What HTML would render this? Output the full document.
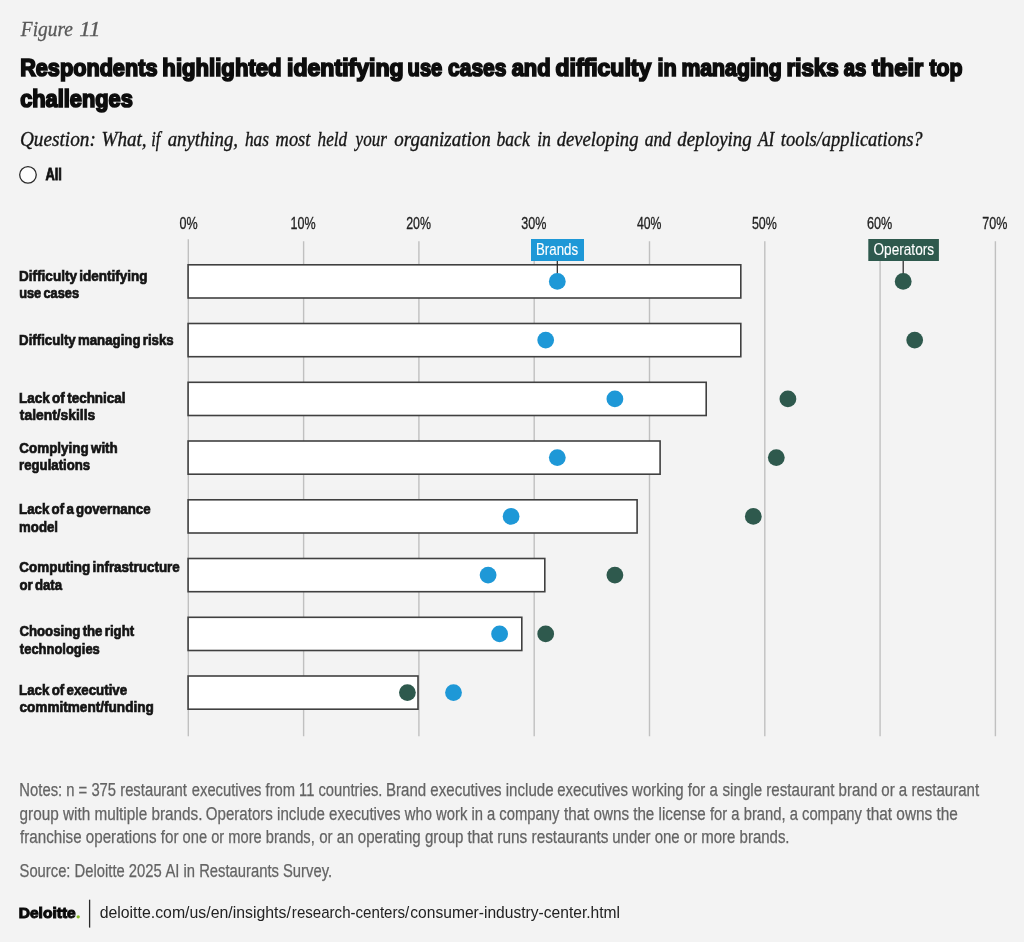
<!DOCTYPE html>
<html lang="en">
<head>
<meta charset="utf-8">
<title>Figure 11</title>
<style>
html,body{margin:0;padding:0;background:#f3f3f3;}
body{width:1024px;height:942px;overflow:hidden;font-family:"Liberation Sans",sans-serif;}
svg{display:block;}
text{font-family:"Liberation Sans",sans-serif;white-space:pre;}
.fig{font-family:"Liberation Serif",serif;font-style:italic;font-size:20.5px;fill:#595959;stroke:#595959;stroke-width:0.3px;}
.ttl{font-weight:bold;font-size:23.2px;fill:#0d0d0d;stroke:#0d0d0d;stroke-width:1.7px;stroke-linejoin:miter;}
.q{font-family:"Liberation Serif",serif;font-style:italic;font-size:20.5px;fill:#161616;stroke:#161616;stroke-width:0.35px;}
.all{font-weight:bold;font-size:15.6px;fill:#111;stroke:#111;stroke-width:0.8px;}
.ax{font-size:16px;fill:#222;stroke:#222;stroke-width:0.3px;}
.lab{font-weight:bold;font-size:14.9px;fill:#141414;stroke:#141414;stroke-width:0.7px;stroke-linejoin:miter;word-spacing:-1.6px;}
.tag{font-size:15.7px;fill:#fff;stroke:#fff;stroke-width:0.12px;}
.note{font-size:17.6px;fill:#646464;stroke:#646464;stroke-width:0.25px;}
.url{font-size:17.4px;fill:#222;}
.logo{font-weight:bold;font-size:14.6px;fill:#0a0a0a;stroke:#0a0a0a;stroke-width:1.0px;stroke-linejoin:miter;}
</style>
</head>
<body>
<svg width="1024" height="942" viewBox="0 0 1024 942" role="img" aria-label="Figure 11 chart">
<rect x="0" y="0" width="1024" height="942" fill="#f3f3f3"/>
<g stroke="#c0c0c0" stroke-width="1.4">
<line x1="188.3" y1="239.2" x2="188.3" y2="736.2"/>
<line x1="303.6" y1="241.3" x2="303.6" y2="736.2"/>
<line x1="418.9" y1="241.3" x2="418.9" y2="736.2"/>
<line x1="534.2" y1="241.3" x2="534.2" y2="736.2"/>
<line x1="649.5" y1="241.3" x2="649.5" y2="736.2"/>
<line x1="764.8" y1="241.3" x2="764.8" y2="736.2"/>
<line x1="880.1" y1="241.3" x2="880.1" y2="736.2"/>
<line x1="995.4" y1="241.3" x2="995.4" y2="736.2"/>
</g>
<circle cx="27.97" cy="174.85" r="8.3" fill="#fdfdfd" stroke="#2b2b2b" stroke-width="1.3"/>
<g fill="#fff" stroke="#404040" stroke-width="1.6">
<rect x="188.1" y="264.8" width="552.7" height="33.2"/>
<rect x="188.1" y="323.5" width="552.7" height="33.2"/>
<rect x="188.1" y="382.3" width="518.1" height="33.2"/>
<rect x="188.1" y="441.0" width="472.0" height="33.2"/>
<rect x="188.1" y="499.8" width="449.0" height="33.2"/>
<rect x="188.1" y="558.5" width="356.7" height="33.2"/>
<rect x="188.1" y="617.3" width="333.7" height="33.2"/>
<rect x="188.1" y="676.0" width="229.9" height="33.2"/>
</g>
<line x1="557.3" y1="260" x2="557.3" y2="281.4" stroke="#222" stroke-width="1.2"/>
<line x1="903.2" y1="260" x2="903.2" y2="281.4" stroke="#222" stroke-width="1.2"/>
<rect x="531" y="239" width="53" height="22" fill="#1e98d7"/>
<rect x="868.3" y="239" width="70.6" height="22" fill="#2e594d"/>
<circle cx="903.2" cy="281.4" r="8.4" fill="#2e594d"/>
<circle cx="557.3" cy="281.4" r="8.4" fill="#1e98d7"/>
<circle cx="914.7" cy="340.1" r="8.4" fill="#2e594d"/>
<circle cx="545.7" cy="340.1" r="8.4" fill="#1e98d7"/>
<circle cx="787.9" cy="398.9" r="8.4" fill="#2e594d"/>
<circle cx="614.9" cy="398.9" r="8.4" fill="#1e98d7"/>
<circle cx="776.3" cy="457.6" r="8.4" fill="#2e594d"/>
<circle cx="557.3" cy="457.6" r="8.4" fill="#1e98d7"/>
<circle cx="753.3" cy="516.4" r="8.4" fill="#2e594d"/>
<circle cx="511.1" cy="516.4" r="8.4" fill="#1e98d7"/>
<circle cx="614.9" cy="575.1" r="8.4" fill="#2e594d"/>
<circle cx="488.1" cy="575.1" r="8.4" fill="#1e98d7"/>
<circle cx="545.7" cy="633.9" r="8.4" fill="#2e594d"/>
<circle cx="499.6" cy="633.9" r="8.4" fill="#1e98d7"/>
<circle cx="407.4" cy="692.6" r="8.4" fill="#2e594d"/>
<circle cx="453.5" cy="692.6" r="8.4" fill="#1e98d7"/>
<circle cx="78.2" cy="916.8" r="1.65" fill="#86bc25"/>
<line x1="89.6" y1="899.7" x2="89.6" y2="927.6" stroke="#2a2a2a" stroke-width="1.3"/>
<text y="35.90" class="fig"><tspan x="20.79" textLength="52.07" lengthAdjust="spacingAndGlyphs">Figure</tspan> <tspan x="79.21" textLength="21.22" lengthAdjust="spacingAndGlyphs">11</tspan></text>
<text y="76.05" class="ttl"><tspan x="20.16" textLength="137.28" lengthAdjust="spacingAndGlyphs">Respondents</tspan> <tspan x="162.37" textLength="119.26" lengthAdjust="spacingAndGlyphs">highlighted</tspan> <tspan x="287.01" textLength="116.68" lengthAdjust="spacingAndGlyphs">identifying</tspan> <tspan x="407.60" textLength="34.68" lengthAdjust="spacingAndGlyphs">use</tspan> <tspan x="448.12" textLength="58.22" lengthAdjust="spacingAndGlyphs">cases</tspan> <tspan x="511.65" textLength="38.97" lengthAdjust="spacingAndGlyphs">and</tspan> <tspan x="555.46" textLength="95.78" lengthAdjust="spacingAndGlyphs">difficulty</tspan> <tspan x="657.45" textLength="19.24" lengthAdjust="spacingAndGlyphs">in</tspan> <tspan x="681.42" textLength="100.34" lengthAdjust="spacingAndGlyphs">managing</tspan> <tspan x="786.46" textLength="52.30" lengthAdjust="spacingAndGlyphs">risks</tspan> <tspan x="843.80" textLength="22.55" lengthAdjust="spacingAndGlyphs">as</tspan> <tspan x="872.01" textLength="51.15" lengthAdjust="spacingAndGlyphs">their</tspan> <tspan x="929.42" textLength="33.01" lengthAdjust="spacingAndGlyphs">top</tspan></text>
<text y="107.15" class="ttl"><tspan x="20.18" textLength="112.58" lengthAdjust="spacingAndGlyphs">challenges</tspan></text>
<text y="146.00" class="q"><tspan x="19.92" textLength="75.99" lengthAdjust="spacingAndGlyphs">Question:</tspan> <tspan x="101.57" textLength="45.05" lengthAdjust="spacingAndGlyphs">What,</tspan> <tspan x="151.18" textLength="9.12" lengthAdjust="spacingAndGlyphs">if</tspan> <tspan x="167.68" textLength="70.39" lengthAdjust="spacingAndGlyphs">anything,</tspan> <tspan x="244.96" textLength="24.04" lengthAdjust="spacingAndGlyphs">has</tspan> <tspan x="275.58" textLength="34.79" lengthAdjust="spacingAndGlyphs">most</tspan> <tspan x="317.55" textLength="29.58" lengthAdjust="spacingAndGlyphs">held</tspan> <tspan x="355.57" textLength="31.29" lengthAdjust="spacingAndGlyphs">your</tspan> <tspan x="394.36" textLength="96.34" lengthAdjust="spacingAndGlyphs">organization</tspan> <tspan x="496.49" textLength="33.22" lengthAdjust="spacingAndGlyphs">back</tspan> <tspan x="537.13" textLength="13.78" lengthAdjust="spacingAndGlyphs">in</tspan> <tspan x="556.68" textLength="81.84" lengthAdjust="spacingAndGlyphs">developing</tspan> <tspan x="644.73" textLength="26.47" lengthAdjust="spacingAndGlyphs">and</tspan> <tspan x="677.31" textLength="74.36" lengthAdjust="spacingAndGlyphs">deploying</tspan> <tspan x="757.89" textLength="16.31" lengthAdjust="spacingAndGlyphs">AI</tspan> <tspan x="780.74" textLength="141.88" lengthAdjust="spacingAndGlyphs">tools/applications?</tspan></text>
<text y="179.80" class="all"><tspan x="45.45" textLength="16.46" lengthAdjust="spacingAndGlyphs">All</tspan></text>
<text y="228.55" class="ax"><tspan x="179.56" textLength="18.14" lengthAdjust="spacingAndGlyphs">0%</tspan></text>
<text y="228.55" class="ax"><tspan x="290.53" textLength="25.08" lengthAdjust="spacingAndGlyphs">10%</tspan></text>
<text y="228.55" class="ax"><tspan x="406.19" textLength="24.77" lengthAdjust="spacingAndGlyphs">20%</tspan></text>
<text y="228.55" class="ax"><tspan x="521.31" textLength="25.12" lengthAdjust="spacingAndGlyphs">30%</tspan></text>
<text y="228.55" class="ax"><tspan x="636.96" textLength="24.50" lengthAdjust="spacingAndGlyphs">40%</tspan></text>
<text y="228.55" class="ax"><tspan x="751.92" textLength="24.93" lengthAdjust="spacingAndGlyphs">50%</tspan></text>
<text y="228.55" class="ax"><tspan x="867.09" textLength="25.25" lengthAdjust="spacingAndGlyphs">60%</tspan></text>
<text y="228.55" class="ax"><tspan x="982.33" textLength="25.06" lengthAdjust="spacingAndGlyphs">70%</tspan></text>
<text y="280.75" class="lab"><tspan x="19.09" textLength="128.49" lengthAdjust="spacingAndGlyphs">Difficulty identifying</tspan></text>
<text y="297.95" class="lab"><tspan x="19.15" textLength="59.97" lengthAdjust="spacingAndGlyphs">use cases</tspan></text>
<text y="344.75" class="lab"><tspan x="19.10" textLength="154.58" lengthAdjust="spacingAndGlyphs">Difficulty managing risks</tspan></text>
<text y="402.85" class="lab"><tspan x="19.08" textLength="106.53" lengthAdjust="spacingAndGlyphs">Lack of technical</tspan></text>
<text y="420.05" class="lab"><tspan x="19.86" textLength="75.32" lengthAdjust="spacingAndGlyphs">talent/skills</tspan></text>
<text y="452.55" class="lab"><tspan x="19.36" textLength="98.41" lengthAdjust="spacingAndGlyphs">Complying with</tspan></text>
<text y="469.75" class="lab"><tspan x="19.10" textLength="71.06" lengthAdjust="spacingAndGlyphs">regulations</tspan></text>
<text y="514.45" class="lab"><tspan x="19.09" textLength="131.46" lengthAdjust="spacingAndGlyphs">Lack of a governance</tspan></text>
<text y="531.65" class="lab"><tspan x="19.08" textLength="38.89" lengthAdjust="spacingAndGlyphs">model</tspan></text>
<text y="572.35" class="lab"><tspan x="19.36" textLength="160.42" lengthAdjust="spacingAndGlyphs">Computing infrastructure</tspan></text>
<text y="589.55" class="lab"><tspan x="19.48" textLength="42.61" lengthAdjust="spacingAndGlyphs">or data</tspan></text>
<text y="636.45" class="lab"><tspan x="19.38" textLength="114.76" lengthAdjust="spacingAndGlyphs">Choosing the right</tspan></text>
<text y="653.65" class="lab"><tspan x="19.86" textLength="79.94" lengthAdjust="spacingAndGlyphs">technologies</tspan></text>
<text y="695.25" class="lab"><tspan x="19.09" textLength="108.07" lengthAdjust="spacingAndGlyphs">Lack of executive</tspan></text>
<text y="712.45" class="lab"><tspan x="19.44" textLength="134.39" lengthAdjust="spacingAndGlyphs">commitment/funding</tspan></text>
<text y="254.90" class="tag"><tspan x="535.98" textLength="42.12" lengthAdjust="spacingAndGlyphs">Brands</tspan></text>
<text y="254.90" class="tag"><tspan x="873.46" textLength="60.65" lengthAdjust="spacingAndGlyphs">Operators</tspan></text>
<text y="796.10" class="note"><tspan x="19.37" textLength="167.52" lengthAdjust="spacingAndGlyphs">Notes: n = 375 restaurant</tspan> <tspan x="191.84" textLength="190.56" lengthAdjust="spacingAndGlyphs">executives from 11 countries.</tspan> <tspan x="385.96" textLength="167.59" lengthAdjust="spacingAndGlyphs">Brand executives include</tspan> <tspan x="557.13" textLength="160.69" lengthAdjust="spacingAndGlyphs">executives working for a</tspan> <tspan x="722.54" textLength="154.80" lengthAdjust="spacingAndGlyphs">single restaurant brand</tspan> <tspan x="881.28" textLength="97.87" lengthAdjust="spacingAndGlyphs">or a restaurant</tspan></text>
<text y="819.60" class="note"><tspan x="19.55" textLength="182.92" lengthAdjust="spacingAndGlyphs">group with multiple brands.</tspan> <tspan x="205.80" textLength="194.64" lengthAdjust="spacingAndGlyphs">Operators include executives</tspan> <tspan x="404.83" textLength="154.49" lengthAdjust="spacingAndGlyphs">who work in a company</tspan> <tspan x="563.99" textLength="141.83" lengthAdjust="spacingAndGlyphs">that owns the license</tspan> <tspan x="710.00" textLength="151.99" lengthAdjust="spacingAndGlyphs">for a brand, a company</tspan> <tspan x="866.40" textLength="91.53" lengthAdjust="spacingAndGlyphs">that owns the</tspan></text>
<text y="843.20" class="note"><tspan x="20.00" textLength="158.56" lengthAdjust="spacingAndGlyphs">franchise operations for</tspan> <tspan x="182.61" textLength="132.11" lengthAdjust="spacingAndGlyphs">one or more brands,</tspan> <tspan x="319.20" textLength="144.31" lengthAdjust="spacingAndGlyphs">or an operating group</tspan> <tspan x="467.44" textLength="140.96" lengthAdjust="spacingAndGlyphs">that runs restaurants</tspan> <tspan x="612.22" textLength="177.32" lengthAdjust="spacingAndGlyphs">under one or more brands.</tspan></text>
<text y="876.70" class="note"><tspan x="19.54" textLength="142.17" lengthAdjust="spacingAndGlyphs">Source: Deloitte 2025</tspan> <tspan x="165.43" textLength="166.64" lengthAdjust="spacingAndGlyphs">AI in Restaurants Survey.</tspan></text>
<text y="917.90" class="logo"><tspan x="18.69" textLength="57.06" lengthAdjust="spacingAndGlyphs">Deloitte</tspan></text>
<text y="918.20" class="url"><tspan x="99.63" textLength="191.23" lengthAdjust="spacingAndGlyphs">deloitte.com/us/en/insights/</tspan><tspan x="291.86" textLength="117.35" lengthAdjust="spacingAndGlyphs">research-centers/</tspan><tspan x="410.27" textLength="209.78" lengthAdjust="spacingAndGlyphs">consumer-industry-center.html</tspan></text>
</svg>
</body>
</html>
